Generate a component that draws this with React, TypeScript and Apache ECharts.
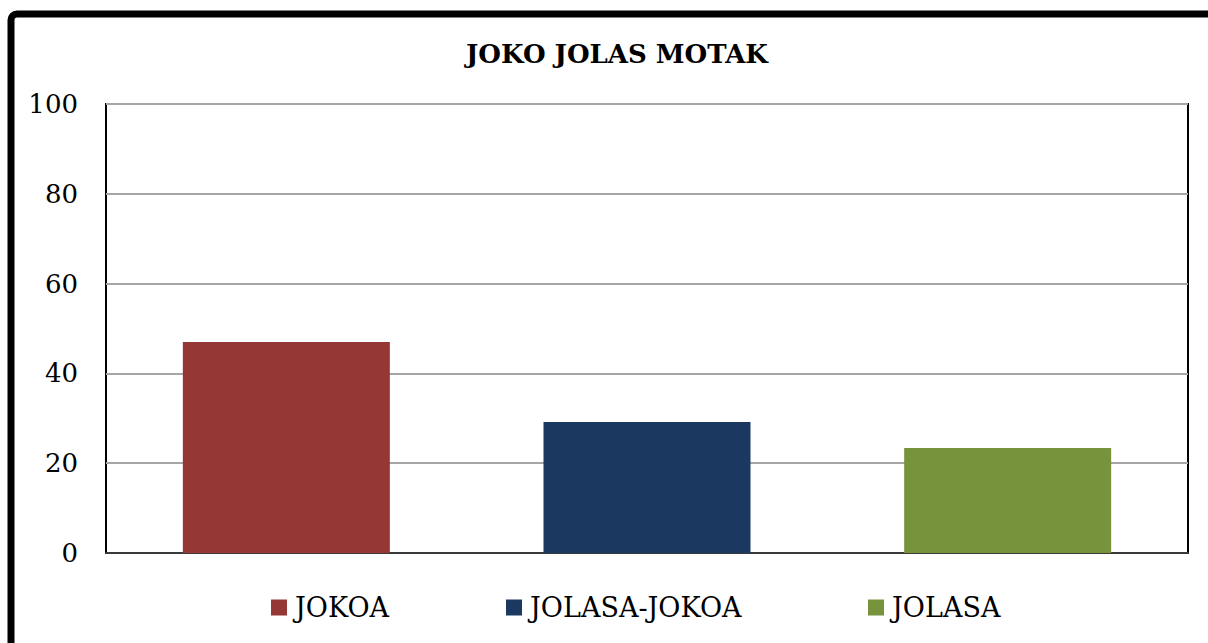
import React, { useEffect, useRef } from "react";
import * as echarts from "echarts";

const titleText = "JOKO JOLAS MOTAK";
const categories = ["JOKOA", "JOLASA-JOKOA", "JOLASA"];
const values = [47.0, 29.2, 23.4];
const colors = ["#953735", "#1A3860", "#77933C"];
const yTicks = { min: 0, max: 100, interval: 20 };
const legendLefts = [271, 506, 868];

export default function App() {
  const ref = useRef<HTMLDivElement>(null);
  useEffect(() => {
    if (!ref.current) return;
    const chart = echarts.init(ref.current, null, { renderer: "svg" });
    const font = "'DejaVu Serif', serif";
    const series = categories.map((name, i) => ({
      name,
      type: "bar",
      barWidth: 207,
      barGap: "-100%",
      itemStyle: { color: colors[i] },
      data: categories.map((_, j) => (j === i ? values[i] : "-")),
    }));
    const legends = categories.map((name, i) => ({
      data: [name],
      left: legendLefts[i],
      top: 594,
      padding: 0,
      icon: "rect",
      itemWidth: 16,
      itemHeight: 16,
      textStyle: { fontFamily: font, fontSize: 27, color: "#000", padding: [0, 0, 0, 3] },
    }));
    chart.setOption({
      animation: false,
      backgroundColor: "#ffffff",
      title: {
        text: titleText,
        left: 612,
        textAlign: "center",
        top: 36,
        textStyle: { fontFamily: font, fontWeight: "bold", fontSize: 26, color: "#000" },
      },
      legend: legends,
      grid: {
        left: 106,
        top: 104,
        right: 20,
        bottom: 90,
        show: true,
        borderColor: "#000",
        borderWidth: 2,
        backgroundColor: "transparent",
      },
      xAxis: {
        type: "category",
        data: categories,
        axisLabel: { show: false },
        axisTick: { show: false },
        axisLine: { lineStyle: { color: "#3a3a3a", width: 2 } },
      },
      yAxis: {
        type: "value",
        min: yTicks.min,
        max: yTicks.max,
        interval: yTicks.interval,
        axisLine: { show: false },
        axisTick: { show: false },
        axisLabel: { fontFamily: font, fontSize: 26, color: "#000", margin: 28 },
        splitLine: { lineStyle: { color: "#a6a6a6", width: 2 } },
      },
      graphic: [
        {
          type: "rect",
          shape: { x: 11, y: 14, width: 1400, height: 900, r: 6 },
          style: { fill: "none", stroke: "#000", lineWidth: 7 },
          z: 100,
        },
      ],
      series,
    });
    return () => chart.dispose();
  }, []);
  return (
    <div
      ref={ref}
      style={{ position: "absolute", left: 0, top: 0, width: 1208, height: 643 }}
    />
  );
}
